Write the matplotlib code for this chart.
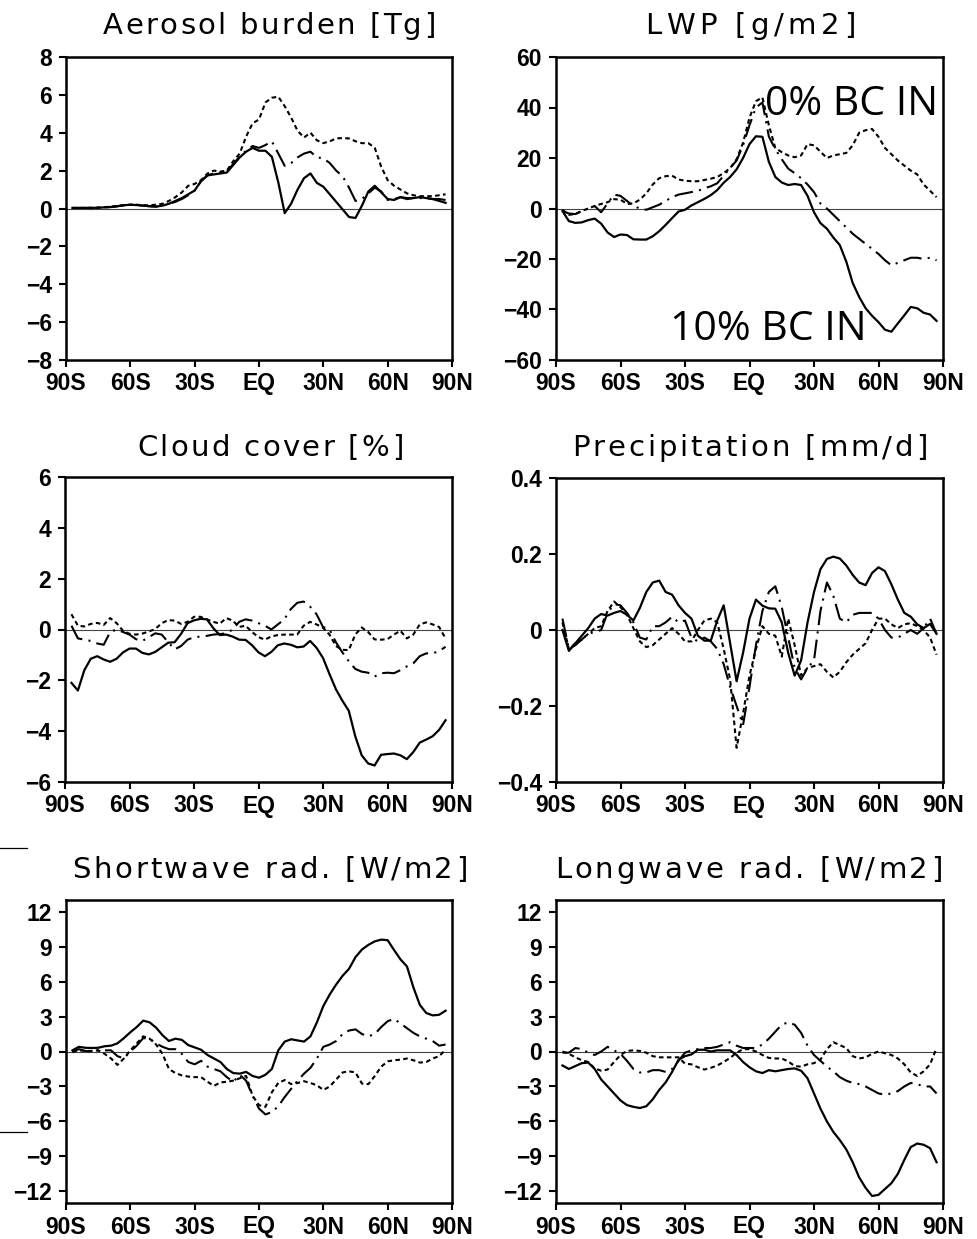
import numpy as np
import matplotlib
matplotlib.use('Agg')
import matplotlib.pyplot as plt
from matplotlib.lines import Line2D
from matplotlib.font_manager import FontProperties, findfont, get_font

# ---------------- data (latitude grid, degrees) ----------------
lat = np.arange(-87, 88, 3)

xticks = [-90, -60, -30, 0, 30, 60, 90]
xticklabels = ['90S', '60S', '30S', 'EQ', '30N', '60N', '90N']

# Aerosol burden [Tg]
aer_bc10 = [0.03, 0.03, 0.03, 0.03, 0.04, 0.06, 0.08, 0.12, 0.17, 0.2,
            0.18, 0.15, 0.12, 0.1, 0.15, 0.25, 0.4, 0.55, 0.75, 0.95,
            1.45, 1.75, 1.8, 1.85, 1.9, 2.3, 2.7, 3.0, 3.2, 3.05,
            3.05, 2.73, 1.38, -0.25, 0.26, 1.0, 1.6, 1.85, 1.35, 1.15,
            0.75, 0.35, -0.05, -0.45, -0.5, 0.15, 0.9, 1.2, 0.85, 0.5,
            0.45, 0.6, 0.5, 0.55, 0.6, 0.55, 0.5, 0.4, 0.3]
aer_mid = [0.03, 0.03, 0.03, 0.03, 0.04, 0.06, 0.08, 0.12, 0.17, 0.2,
           0.18, 0.15, 0.12, 0.1, 0.15, 0.25, 0.35, 0.5, 0.7, 0.95,
           1.45, 1.75, 1.85, 1.9, 1.95, 2.35, 2.75, 3.05, 3.3, 3.2,
           3.35, 3.55, 2.9, 2.25, 2.4, 2.7, 2.9, 3.0, 2.7, 2.65,
           2.4, 2.0, 1.7, 1.1, 0.4, 0.5, 0.8, 1.1, 0.9, 0.45,
           0.5, 0.6, 0.55, 0.55, 0.55, 0.55, 0.5, 0.5, 0.45]
aer_bc0 = [0.03, 0.03, 0.03, 0.04, 0.05, 0.07, 0.1, 0.13, 0.18, 0.2,
           0.2, 0.17, 0.17, 0.2, 0.25, 0.4, 0.6, 0.85, 1.2, 1.3,
           1.5, 1.85, 2.0, 1.95, 2.0, 2.5, 2.9, 3.8, 4.5, 4.7,
           5.6, 5.85, 5.9, 5.4, 4.8, 4.1, 3.75, 4.0, 3.6, 3.45,
           3.55, 3.7, 3.72, 3.7, 3.55, 3.45, 3.45, 3.2, 2.2, 1.5,
           1.2, 1.0, 0.8, 0.7, 0.65, 0.65, 0.65, 0.7, 0.75]

# LWP [g/m2]
lwp_bc10 = [-1.0, -5.0, -5.7, -5.5, -4.6, -4.0, -6.0, -9.5, -11.3, -10.3,
            -10.5, -12.2, -12.3, -12.3, -11.0, -9.0, -6.5, -3.8, -1.2, -0.5,
            1.2, 2.5, 3.8, 5.3, 7.3, 10.2, 12.5, 15.5, 20.0, 25.5,
            28.6, 28.4, 18.5, 12.5, 10.3, 9.3, 9.7, 9.3, 5.0, -1.5,
            -5.8, -8.0, -11.5, -14.5, -21.0, -29.5, -35.0, -39.5, -42.5, -45.0,
            -48.0, -48.8, -45.5, -42.3, -39.0, -39.5, -41.3, -42.0, -44.5]
lwp_mid = [-1, -2, -2.2, -1, 0, 1, -1.5, 2, 5.5, 5,
           3, 1, 0, -0.5, 0.5, 1.5, 3, 4.5, 5.5, 6,
           6.5, 7, 8, 8.8, 10, 13, 16, 19, 25, 33,
           40, 42, 28.5, 23.5, 19.5, 15.8, 14, 12, 9.5, 6.5,
           2, 0, -2.5, -5, -7.5, -10, -12, -14, -16, -18,
           -20.5, -22.5, -21.5, -20.5, -19.5, -19.5, -20, -19.5, -20.5]
lwp_bc0 = [-0.5, -2.5, -2.2, -1, 0, 1, 1.8, 2.5, 3.7, 3.5,
           1.8, 2, 3.5, 6, 9.5, 12, 12.8, 13, 11.5, 11,
           10.8, 10.8, 11.3, 11.8, 12.5, 14, 16, 19.5, 26, 36,
           42.5, 44, 33, 24, 22.3, 21, 20.3, 21, 25.5, 25,
           22.5, 20, 21, 21.5, 22, 25, 30, 31, 31.5, 28.4,
           24, 21.5, 19, 17, 15, 13.5, 9.5, 7, 4.5]

# Cloud cover [%]
cc_bc10 = [-2.1, -2.4, -1.6, -1.15, -1.05, -1.18, -1.27, -1.15, -0.9, -0.75,
           -0.75, -0.92, -0.98, -0.88, -0.7, -0.52, -0.5, -0.17, 0.25, 0.36,
           0.42, 0.4, 0.05, -0.22, -0.2, -0.28, -0.4, -0.41, -0.62, -0.9,
           -1.05, -0.88, -0.62, -0.55, -0.6, -0.7, -0.67, -0.45, -0.72, -1.12,
           -1.75, -2.35, -2.8, -3.2, -4.2, -4.95, -5.27, -5.35, -4.93, -4.9,
           -4.88, -4.95, -5.1, -4.82, -4.45, -4.33, -4.2, -3.95, -3.57]
cc_mid = [0.15, -0.35, -0.4, -0.45, -0.55, -0.6, -0.1, 0.0, -0.1, -0.2,
          -0.38, -0.45, -0.3, -0.15, -0.2, -0.5, -0.78, -0.65, -0.4, -0.3,
          -0.28, -0.25, -0.2, -0.18, -0.15, 0.0, 0.3, 0.4, 0.35, 0.25,
          0.15, 0.0, 0.2, 0.4, 0.8, 1.05, 1.1, 0.9, 0.6, 0.1,
          0.0, -0.5, -0.9, -1.25, -1.55, -1.66, -1.7, -1.85, -1.72, -1.7,
          -1.72, -1.6, -1.45, -1.33, -1.05, -0.94, -0.94, -0.85, -0.68]
cc_bc0 = [0.6, 0.15, 0.12, 0.22, 0.26, 0.18, 0.45, 0.25, -0.05, -0.17,
          -0.2, -0.16, -0.08, 0.02, 0.25, 0.37, 0.35, 0.22, 0.3, 0.5,
          0.5, 0.4, 0.3, 0.23, 0.45, 0.35, 0.1, 0.15, -0.1, -0.3,
          -0.4, -0.27, -0.22, -0.2, -0.2, -0.2, 0.15, 0.3, 0.2, 0.07,
          -0.2, -0.65, -0.8, -0.81, -0.2, 0.08, -0.1, -0.39, -0.4, -0.38,
          -0.2, -0.05, -0.35, -0.2, 0.2, 0.28, 0.2, 0.1, -0.35]

# Precipitation [mm/d]
pr_bc10 = [0.0, -0.055, -0.035, -0.015, 0.005, 0.03, 0.042, 0.038, 0.045, 0.05,
           0.04, 0.025, 0.058, 0.1, 0.125, 0.13, 0.1, 0.093, 0.065, 0.045,
           0.03, -0.015, -0.028, -0.028, 0.025, 0.065, -0.035, -0.135, -0.06, 0.03,
           0.08, 0.064, 0.057, 0.056, 0.02, -0.06, -0.12, -0.08, 0.02, 0.1,
           0.16, 0.187, 0.193, 0.188, 0.17, 0.145, 0.125, 0.118, 0.15, 0.165,
           0.155, 0.12, 0.08, 0.045, 0.035, 0.015, 0.005, 0.016, -0.01]
pr_mid = [0.03, -0.05, -0.04, -0.025, -0.01, -0.005, 0.0, 0.045, 0.068, 0.065,
          0.045, 0.02, -0.02, -0.025, 0.01, 0.01, 0.02, 0.035, 0.02, 0.025,
          -0.02, -0.03, -0.02, -0.03, -0.05, -0.09, -0.15, -0.2, -0.25, -0.15,
          -0.04, 0.05, 0.1, 0.115, 0.06, -0.02, -0.1, -0.13, -0.1, -0.08,
          0.05, 0.125, 0.09, 0.03, 0.02, 0.04, 0.045, 0.045, 0.045, 0.03,
          0.0, -0.02, -0.02, -0.01, 0.0, -0.01, 0.005, 0.03, -0.01]
pr_bc0 = [0.02, -0.05, -0.035, -0.025, -0.01, 0.005, 0.01, 0.05, 0.075, 0.06,
          0.04, 0.005, -0.03, -0.045, -0.04, -0.025, -0.01, 0.005, -0.01, -0.03,
          -0.03, 0.0, 0.025, 0.03, 0.02, -0.05, -0.13, -0.31, -0.22, -0.12,
          -0.05, 0.01, -0.01, -0.015, -0.07, 0.03, -0.04, -0.12, -0.1, -0.095,
          -0.09, -0.11, -0.125, -0.11, -0.085, -0.065, -0.05, -0.035, 0.0, 0.03,
          0.03, 0.015, 0.005, 0.015, 0.018, 0.01, 0.0, -0.02, -0.065]

# Shortwave rad. [W/m2]
sw_bc10 = [0.1, 0.4, 0.32, 0.3, 0.32, 0.45, 0.5, 0.7, 1.15, 1.65,
           2.1, 2.65, 2.5, 2.05, 1.4, 0.9, 1.1, 1.0, 0.55, 0.35,
           0.15, -0.3, -0.6, -0.9, -1.5, -1.85, -1.9, -1.75, -2.1, -2.25,
           -2.0, -1.5, 0.1, 0.85, 1.05, 0.95, 0.85, 1.3, 2.5, 3.9,
           4.9, 5.75, 6.5, 7.1, 8.1, 8.75, 9.15, 9.45, 9.6, 9.55,
           8.7, 7.9, 7.3, 5.5, 4.0, 3.3, 3.1, 3.15, 3.5]
sw_mid = [0.0, 0.2, 0.05, 0.0, 0.1, 0.1, 0.1, -0.4, -0.6, 0.0,
          0.5, 1.15, 1.1, 0.7, 0.4, 0.2, 0.2, -0.2, -0.9, -1.1,
          -0.8, -1.3, -1.5, -1.7, -2.2, -2.6, -2.0, -2.5, -3.8, -4.9,
          -5.4, -5.2, -4.7, -3.9, -3.2, -2.5, -1.9, -1.4, -0.6, 0.4,
          0.6, 0.9, 1.5, 1.8, 1.9, 1.5, 1.3, 1.5, 2.1, 2.6,
          2.8, 2.4, 2.0, 1.6, 1.3, 1.1, 0.9, 0.5, 0.6]
sw_bc0 = [-0.05, 0.1, 0.05, 0.05, 0.1, -0.2, -0.6, -1.15, -0.6, 0.1,
          0.7, 1.3, 1.1, 0.6, -0.2, -1.5, -1.85, -2.05, -2.15, -2.2,
          -2.2, -2.6, -2.95, -2.65, -2.6, -2.5, -2.3, -2.1, -3.8, -4.6,
          -4.75, -3.5, -2.7, -2.45, -2.8, -2.7, -2.55, -2.7, -2.9, -3.3,
          -3.0, -2.4, -1.8, -1.7, -1.8, -2.75, -2.8, -2.1, -1.3, -0.85,
          -0.75, -0.7, -0.6, -0.75, -0.95, -0.9, -0.6, -0.4, 0.15]

# Longwave rad. [W/m2]
lw_bc10 = [-1.2, -1.5, -1.25, -1.0, -0.95, -1.5, -2.4, -3.0, -3.6, -4.2,
           -4.6, -4.75, -4.85, -4.7, -4.1, -3.3, -2.65, -1.75, -0.7, -0.4,
           -0.25, 0.15, 0.15, 0.0, 0.1, 0.1, 0.1, -0.3, -0.9, -1.35,
           -1.7, -1.85, -1.6, -1.7, -1.6, -1.5, -1.45, -1.65, -2.3, -3.6,
           -4.9, -6.0, -6.9, -7.6, -8.4, -9.5, -10.8, -11.7, -12.4, -12.3,
           -11.8, -11.3, -10.5, -9.3, -8.2, -7.9, -8.0, -8.3, -9.5]
lw_mid = [-0.1, -0.1, 0.3, 0.2, -0.1, -0.3, 0.0, 0.4, 0.1, -0.2,
          -0.8, -1.5, -1.8, -1.8, -1.6, -1.6, -1.75, -1.5, -0.8, -0.1,
          0.1, 0.2, 0.3, 0.3, 0.4, 0.6, 0.8, 0.5, 0.3, 0.3,
          0.3, 0.6, 1.1, 1.7, 2.3, 2.5, 2.3, 1.6, 0.5, -0.3,
          -0.8, -1.3, -1.7, -2.2, -2.5, -2.7, -2.8, -3.0, -3.3, -3.6,
          -3.7, -3.6, -3.4, -3.0, -2.7, -2.8, -3.0, -3.0, -3.6]
lw_bc0 = [0.0, -0.2, -0.5, -0.75, -0.9, -1.45, -1.65, -1.55, -0.9, -0.3,
          0.05, 0.1, 0.05, -0.1, -0.4, -0.5, -0.5, -0.5, -0.5, -1.05,
          -1.1, -1.35, -1.55, -1.4, -1.2, -0.9, -0.55, -0.1, 0.2, 0.2,
          0.0, -0.3, -0.55, -0.6, -0.6, -0.85, -1.25, -1.3, -1.1, -1.0,
          -0.7, 0.2, 0.8, 0.55, 0.3, -0.4, -0.6, -0.5, -0.2, 0.0,
          -0.15, -0.3, -0.6, -1.1, -1.8, -2.1, -1.7, -1.1, 0.3]

titles = ['Aerosol burden [Tg]', 'LWP [g/m2]', 'Cloud cover [%]',
          'Precipitation [mm/d]', 'Shortwave rad. [W/m2]', 'Longwave rad. [W/m2]']
yticks_list = [[-8, -6, -4, -2, 0, 2, 4, 6, 8],
               [-60, -40, -20, 0, 20, 40, 60],
               [-6, -4, -2, 0, 2, 4, 6],
               [-0.4, -0.2, 0, 0.2, 0.4],
               [-12, -9, -6, -3, 0, 3, 6, 9, 12],
               [-12, -9, -6, -3, 0, 3, 6, 9, 12]]
prec_labels = ['\u22120.4', '\u22120.2', '0', '0.2', '0.4']
ylims = [(-8, 8), (-60, 60), (-6, 6), (-0.4, 0.4), (-13, 13), (-13, 13)]
series = [(aer_bc10, aer_mid, aer_bc0), (lwp_bc10, lwp_mid, lwp_bc0),
          (cc_bc10, cc_mid, cc_bc0), (pr_bc10, pr_mid, pr_bc0),
          (sw_bc10, sw_mid, sw_bc0), (lw_bc10, lw_mid, lw_bc0)]

# ---------------- layout (pixel boxes) ----------------
W, H = 977, 1239
DPI = 100
fig = plt.figure(figsize=(W / DPI, H / DPI), dpi=DPI)

rects = [(66, 57, 452, 360), (556, 57, 943, 360),
         (65, 477, 452, 782), (556, 478, 943, 782),
         (66, 900, 452, 1203), (556, 900, 943, 1203)]
# (left, right, baseline) of each title in pixels
title_box = [(103, 435, 34), (645, 855, 34), (137, 403, 456),
             (572, 927, 456), (72, 467, 878), (555, 942, 878)]

tick_font = dict(family='Liberation Sans', weight='bold', size=16.5)

title_size = 21
title_prop = FontProperties(family='DejaVu Sans', size=title_size)
ft = get_font(findfont(title_prop))
ft.set_size(title_size, DPI)


def advances(s):
    out = []
    for ch in s:
        g = ft.load_char(ord(ch))
        out.append(g.linearHoriAdvance / 65536.0)
    return out


def tracked_title(s, left, right, base):
    adv = advances(s)
    natural = sum(adv[:-1])
    last = adv[-1]
    track = (right - left - natural - last) / max(len(s) - 1, 1)
    x = left
    for ch, a in zip(s, adv):
        if ch != ' ':
            fig.text(x / W, 1 - base / H, ch, fontproperties=title_prop,
                     ha='left', va='baseline')
        x += a + track


for i in range(6):
    l, t, r, b = rects[i]
    ax = fig.add_axes([l / W, 1 - b / H, (r - l) / W, (b - t) / H])
    s10, smid, s0 = series[i]
    ax.axhline(0, color='#444444', lw=0.8, zorder=1)
    ax.plot(lat, s10, color='black', lw=1.6, ls='-', zorder=3)
    ax.plot(lat, smid, color='black', lw=1.5, ls=(0, (9, 3, 1, 3)), zorder=3)
    ax.plot(lat, s0, color='black', lw=1.5, ls=(0, (2.2, 1.6)), zorder=3)
    ax.set_xlim(-90, 90)
    ax.set_ylim(*ylims[i])
    ax.set_xticks(xticks)
    ax.set_xticklabels(xticklabels, fontdict=tick_font)
    ax.set_yticks(yticks_list[i])
    if i == 3:
        ax.set_yticklabels(prec_labels, fontdict=tick_font)
    else:
        ax.set_yticklabels([('\u2212' + str(abs(v))) if v < 0 else str(v)
                            for v in yticks_list[i]], fontdict=tick_font)
    ax.tick_params(direction='out', length=5, width=1.5, pad=4, colors='black')
    ax.tick_params(axis='y', pad=5)
    for sp in ax.spines.values():
        sp.set_linewidth(1.8)
    tracked_title(titles[i], *title_box[i])

# annotations in LWP panel
fig.text(765 / W, 1 - 115 / H, '0% BC IN', fontsize=29.5, family='Open Sans',
         ha='left', va='baseline')
fig.text(670 / W, 1 - 340 / H, '10% BC IN', fontsize=29.5, family='Open Sans',
         ha='left', va='baseline')

# small stray marks at the left edge
for yy in (848, 1132):
    fig.add_artist(Line2D([0, 27 / W], [1 - yy / H, 1 - yy / H], color='black',
                          lw=0.9, transform=fig.transFigure))

fig.savefig('out.png', dpi=DPI)
